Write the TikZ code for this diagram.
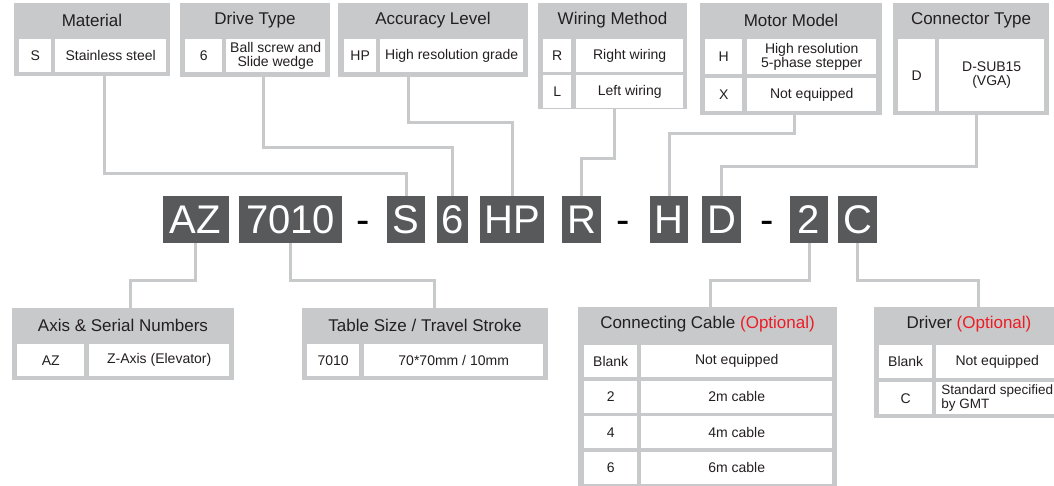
\documentclass[tikz,border=0pt]{standalone}
\usepackage{fontspec}
\setmainfont{Liberation Sans}
\usepackage{tikz}
\definecolor{boxgrey}{RGB}{200,201,203}
\definecolor{codegrey}{RGB}{88,89,91}
\definecolor{ink}{RGB}{35,31,32}
\definecolor{optred}{RGB}{237,28,36}

\begin{document}
\begin{tikzpicture}[x=1pt,y=-1pt,
    panel/.style={fill=boxgrey,anchor=north west,inner sep=0pt},
    head/.style={text=ink,inner sep=0pt,font=\fontsize{17}{20}\selectfont},
    cell/.style={fill=white,anchor=north west,inner sep=0pt,align=center,text=ink,font=\fontsize{14}{14.5}\selectfont},
    code/.style={fill=codegrey,text=white,inner sep=0pt,minimum height=47,text height=29pt,text depth=0pt,font=\fontsize{40}{40}\selectfont},
    hyph/.style={text=black,inner sep=0pt,text height=29pt,text depth=0pt,font=\fontsize{40}{40}\selectfont},
    link/.style={draw=boxgrey,line width=3pt}]
\useasboundingbox (0,0) rectangle (1054,486);

% top panels
\node[panel,minimum width=156,minimum height=73] (mat) at (14,3) {};
\node[head] (matT) at (92,20.5) {Material};
\node[cell,minimum width=32,minimum height=33] (matK) at (19,39) {S};
\node[cell,minimum width=111,minimum height=33] (matD) at (55,39) {Stainless steel};

\node[panel,minimum width=150,minimum height=74] (drv) at (180,3) {};
\node[head] (drvT) at (255,20.5) {Drive Type};
\node[cell,minimum width=37,minimum height=33] (drvK) at (185,39) {6};
\node[cell,minimum width=99,minimum height=33] (drvD) at (226,39) {Ball screw and\\Slide wedge};

\node[panel,minimum width=190,minimum height=74] (acc) at (338,3) {};
\node[head] (accT) at (433,20.5) {Accuracy Level};
\node[cell,minimum width=32,minimum height=33] (accK) at (344,39) {HP};
\node[cell,minimum width=143,minimum height=33] (accD) at (380,39) {High resolution grade};

\node[panel,minimum width=149,minimum height=106] (wir) at (538,3) {};
\node[head] (wirT) at (612.5,20.5) {Wiring Method};
\foreach \k/\t [count=\i from 0] in {R/Right wiring, L/Left wiring}{
    \node[cell,minimum width=28,minimum height=33] (wirK\i) at (543,39+36*\i) {\k};
    \node[cell,minimum width=107,minimum height=33] (wirD\i) at (576,39+36*\i) {\t};
}

\node[panel,minimum width=182,minimum height=112] (mot) at (700,3) {};
\node[head] (motT) at (791,20.5) {Motor Model};
\node[cell,minimum width=37,minimum height=35] (motK0) at (705,39) {H};
\node[cell,minimum width=129,minimum height=35] (motD0) at (747,39) {High resolution\\5-phase stepper};
\node[cell,minimum width=37,minimum height=33] (motK1) at (705,78) {X};
\node[cell,minimum width=129,minimum height=33] (motD1) at (747,78) {Not equipped};

\node[panel,minimum width=156,minimum height=112] (con) at (893,3) {};
\node[head] (conT) at (971,20.5) {Connector Type};
\node[cell,minimum width=37,minimum height=72] (conK) at (898,39) {D};
\node[cell,minimum width=105,minimum height=72] (conD) at (939,39) {D-SUB15\\(VGA)};

% model code
\foreach \n/\t/\x/\w in {AZ/AZ/195.5/66, TS/7010/290.5/103, S/S/406/38, six/6/452.5/31, HP/HP/512/64,
    R/R/581.5/39, H/H/669/38, D/D/721.5/39, two/2/809/38, C/C/857.5/39}
    \node[code,minimum width=\w] (\n) at (\x,219.5) {\t};
\foreach \x [count=\i] in {363,623,767}
    \node[hyph] (hy\i) at (\x,219.5) {-};

% bottom panels
\node[panel,minimum width=222,minimum height=72] (axis) at (12,308) {};
\node[head] (axisT) at (123,325) {Axis \& Serial Numbers};
\node[cell,minimum width=67,minimum height=32] (axisK) at (17,344) {AZ};
\node[cell,minimum width=140,minimum height=32] (axisD) at (89,344) {Z-Axis (Elevator)};

\node[panel,minimum width=246,minimum height=72] (tab) at (302,308) {};
\node[head] (tabT) at (425,325) {Table Size / Travel Stroke};
\node[cell,minimum width=52,minimum height=32] (tabK) at (307,344) {7010};
\node[cell,minimum width=179,minimum height=32] (tabD) at (364,344) {70*70mm / 10mm};

\node[panel,minimum width=259,minimum height=179] (cab) at (578,307) {};
\node[head] (cabT) at (707.5,324.5) {Connecting Cable \textcolor{optred}{(Optional)}};
\foreach \k/\t [count=\i from 0] in {Blank/Not equipped, 2/2m cable, 4/4m cable, 6/6m cable}{
    \node[cell,minimum width=53,minimum height=32] (cabK\i) at (584,345+35.5*\i) {\k};
    \node[cell,minimum width=191,minimum height=32] (cabD\i) at (641,345+35.5*\i) {\t};
}

\node[panel,minimum width=190,minimum height=111] (drvr) at (874,307) {};
\node[head] (drvrT) at (969,324.5) {Driver \textcolor{optred}{(Optional)}};
\node[cell,minimum width=53,minimum height=33] (drvrK0) at (879,345) {Blank};
\node[cell,minimum width=122,minimum height=33] (drvrD0) at (936,345) {Not equipped};
\node[cell,minimum width=53,minimum height=32] (drvrK1) at (879,382) {C};
\node[cell,minimum width=122,minimum height=32,align=left,inner xsep=4pt,font=\fontsize{13.5}{14}\selectfont] (drvrD1) at (936,382) {Standard specified\\by GMT};

% connectors
\foreach \b/\c/\x/\y in {mat/S/104/174, drv/six/263/148, acc/HP/408/123, wir/R/614/159, mot/H/794/134, con/D/976/167}
    \draw[link] (\b.south -| \x,0) |- (\c.north |- 0,\y) -- (\c.north);
\foreach \c/\b/\x in {AZ/axis/130, TS/tab/434, two/cab/710, C/drvr/978}
    \draw[link] (\c.south) -- (\c.south |- 0,280) -| (\b.north -| \x,0);
\end{tikzpicture}
\end{document}
